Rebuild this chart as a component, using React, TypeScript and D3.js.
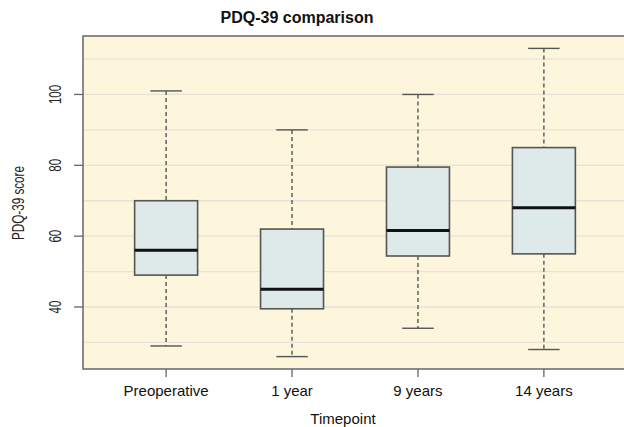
import React from "react";
import * as d3 from "d3";

// box stats
const timepoints = ["Preoperative", "1 year", "9 years", "14 years"];
const lowerWhisker = [29, 26, 34, 28];
const q1 = [49, 39.5, 54.4, 55];
const medians = [56, 45, 61.6, 68];
const q3 = [70, 62, 79.5, 85];
const upperWhisker = [101, 90, 100, 113];
const yTicks = [40, 60, 80, 100];
const gridValues = [30, 40, 50, 60, 70, 80, 90, 100, 110];

const width = 624;
const height = 427;
const plot = { left: 83, right: 627, top: 36, bottom: 369 };

const App = () => {
  // R style: positions 1..n with 4% padding on the [0.5, n+0.5] range
  const x = d3.scaleLinear().domain([0.34, 4.66]).range([plot.left, plot.right]);
  const y = d3.scaleLinear().domain([22.5, 116.5]).range([plot.bottom, plot.top]);

  const boxW = x(1.5) - x(1);
  const capW = boxW / 2;

  const font = "'Liberation Sans', Arial, sans-serif";

  return (
    <svg width={width} height={height} style={{ position: "absolute", left: 0, top: 0 }}>
      <rect x={0} y={0} width={width} height={height} fill="#ffffff" />
      <text x={297} y={23} textAnchor="middle" fontFamily={font} fontWeight="bold" fontSize={16} fill="#111">
        PDQ-39 comparison
      </text>

      {/* plot background */}
      <rect
        x={plot.left}
        y={plot.top}
        width={plot.right - plot.left}
        height={plot.bottom - plot.top}
        fill="#fdf6dc"
      />
      {gridValues.map(v => (
        <line key={v} x1={plot.left} x2={plot.right} y1={y(v)} y2={y(v)} stroke="#e6e2d6" strokeWidth={1.3} />
      ))}

      {/* boxes */}
      {timepoints.map((t, i) => {
        const cx = x(i + 1);
        return (
          <g key={t}>
            <line x1={cx} x2={cx} y1={y(upperWhisker[i])} y2={y(q3[i])} stroke="#555" strokeWidth={1.4} strokeDasharray="4,3" />
            <line x1={cx} x2={cx} y1={y(q1[i])} y2={y(lowerWhisker[i])} stroke="#555" strokeWidth={1.4} strokeDasharray="4,3" />
            <line x1={cx - capW / 2} x2={cx + capW / 2} y1={y(upperWhisker[i])} y2={y(upperWhisker[i])} stroke="#555" strokeWidth={1.4} />
            <line x1={cx - capW / 2} x2={cx + capW / 2} y1={y(lowerWhisker[i])} y2={y(lowerWhisker[i])} stroke="#555" strokeWidth={1.4} />
            <rect
              x={cx - boxW / 2}
              y={y(q3[i])}
              width={boxW}
              height={y(q1[i]) - y(q3[i])}
              fill="#deeaea"
              stroke="#555"
              strokeWidth={1.6}
            />
            <line x1={cx - boxW / 2} x2={cx + boxW / 2} y1={y(medians[i])} y2={y(medians[i])} stroke="#111" strokeWidth={3} />
          </g>
        );
      })}

      {/* frame */}
      <rect
        x={plot.left}
        y={plot.top}
        width={plot.right - plot.left}
        height={plot.bottom - plot.top}
        fill="none"
        stroke="#666"
        strokeWidth={1.5}
      />

      {/* y axis - rotated labels look taller than wide in the original */}
      {yTicks.map(v => (
        <g key={v}>
          <line x1={plot.left - 9} x2={plot.left} y1={y(v)} y2={y(v)} stroke="#666" strokeWidth={1.3} />
          <text
            transform={`translate(61,${y(v)}) rotate(-90) scale(0.92,1.35)`}
            textAnchor="middle"
            fontFamily={font}
            fontSize={12.5}
            fill="#222"
          >
            {v}
          </text>
        </g>
      ))}
      <text
        transform={`translate(24,${203}) rotate(-90) scale(1,1.35)`}
        textAnchor="middle"
        fontFamily={font}
        fontSize={11.7}
        fill="#222"
      >
        PDQ-39 score
      </text>

      {/* x axis */}
      {timepoints.map((t, i) => (
        <g key={t}>
          <line x1={x(i + 1)} x2={x(i + 1)} y1={plot.bottom} y2={plot.bottom + 8} stroke="#666" strokeWidth={1.3} />
          <text x={x(i + 1)} y={396} textAnchor="middle" fontFamily={font} fontSize={15} fill="#111">
            {t}
          </text>
        </g>
      ))}
      <text x={343} y={424} textAnchor="middle" fontFamily={font} fontSize={15} fill="#111">
        Timepoint
      </text>
    </svg>
  );
};

export default App;
